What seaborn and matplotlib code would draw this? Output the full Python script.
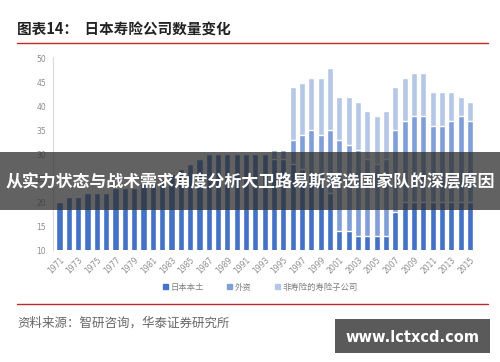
import matplotlib
matplotlib.use("Agg")
import matplotlib.pyplot as plt
import pandas as pd
import seaborn as sns
from matplotlib.lines import Line2D
from matplotlib.patches import Patch, Rectangle

years = list(range(1971, 2016))
domestic = [20, 21, 21, 22, 22, 22, 23, 23, 23, 24, 24, 25, 26, 27, 28, 29,
            30, 30, 30, 30, 30, 30, 30, 29, 29, 28, 27, 26, 24, 22,
            14, 14, 13, 13, 13, 13, 18, 20, 20, 20, 20, 20, 20, 20, 20]
foreign = [0] * 23 + [2, 2, 5, 7, 9, 10, 13, 19, 18, 18, 16, 15, 16, 17, 17,
                      18, 18, 16, 16, 17, 18, 17]
subsidiary = [0] * 25 + [11, 11, 11, 12, 13, 9, 10, 10, 10, 10, 10, 9, 9, 9,
                         9, 7, 7, 6, 4, 4]
series_names = ["日本本土", "外资", "非寿险的寿险子公司"]

c_dark = "#4472c4"
c_mid = "#7f9fd6"
c_light = "#b5c6e7"

df = pd.DataFrame({"year": [str(y) for y in years],
                   "domestic": domestic, "foreign": foreign,
                   "subsidiary": subsidiary})
df["mid_top"] = df["domestic"] + df["foreign"]
df["total"] = df["mid_top"] + df["subsidiary"]

sns.set_theme(style="white")
plt.rcParams["font.family"] = ["Noto Sans CJK SC", "DejaVu Sans"]

fig = plt.figure(figsize=(5, 3.62), dpi=100)
ax = fig.add_axes([0.106, 0.309, 0.849, 0.533])

# stacked bars: draw cumulative heights back to front
for col, color in [("total", c_light), ("mid_top", c_mid), ("domestic", c_dark)]:
    sns.barplot(data=df, x="year", y=col, color=color, width=0.65,
                saturation=1, ax=ax)

ax.set_xlim(-0.7, 44.8)
ax.set_ylim(10, 50.3)
ax.set_yticks(range(10, 51, 5))
ax.set_xlabel("")
ax.set_ylabel("")
ticks = list(range(0, len(years), 2))
ax.set_xticks(ticks)
ax.set_xticklabels([df["year"][i] for i in ticks], rotation=45, ha="right",
                   rotation_mode="anchor", fontsize=5.5, color="#8c8c8c",
                   family="DejaVu Sans")
ax.tick_params(axis="x", length=0, pad=4)
ax.tick_params(axis="y", labelsize=5.5, labelcolor="#8c8c8c", length=2,
               color="#d0d0d0", pad=3)
for lbl in ax.get_yticklabels():
    lbl.set_family("DejaVu Sans")
for s in ["top", "right", "bottom"]:
    ax.spines[s].set_visible(False)
ax.spines["left"].set_color("#d9d9d9")
ax.spines["left"].set_linewidth(0.8)

handles = [Patch(color=c) for c in [c_dark, c_mid, c_light]]
fig.legend(handles, series_names, loc="center", bbox_to_anchor=(0.52, 0.207),
           ncol=3, frameon=False, fontsize=6, handlelength=0.6,
           handleheight=0.6, handletextpad=0.3, columnspacing=2.8,
           labelcolor="#7f7f7f")

# header and footer
fig.text(0.034, 1 - 30 / 362, "图表14：  日本寿险公司数量变化", fontsize=10.5,
         fontweight="bold", color="#222222", va="center")
fig.add_artist(Line2D([0.034, 0.976], [1 - 43 / 362] * 2, color="#c0282d", lw=1))
fig.add_artist(Line2D([0.034, 0.976], [1 - 304 / 362] * 2, color="#c0282d", lw=1))
fig.text(0.034, 1 - 323 / 362, "资料来源：智研咨询，华泰证券研究所", fontsize=9,
         color="#666666", va="center")

# overlay banner
fig.add_artist(Rectangle((0, 1 - 210 / 362), 1, 58 / 362, transform=fig.transFigure,
                         facecolor="#2e2e2e", alpha=0.75, edgecolor="none"))
fig.text(0.5, 1 - 181 / 362, "从实力状态与战术需求角度分析大卫路易斯落选国家队的深层原因",
         fontsize=12.2, fontweight="bold", color="white", ha="center", va="center")

# watermark
fig.add_artist(Rectangle((335 / 500, 1 - 353 / 362), 155 / 500, 34 / 362,
                         transform=fig.transFigure, facecolor="#5a5a5a",
                         edgecolor="none"))
fig.text(412 / 500, 1 - 337 / 362, "www.lctxcd.com", fontsize=10.5,
         fontweight="bold", color="white", ha="center", va="center",
         family="DejaVu Sans")

fig.savefig("out.png", dpi=100)
